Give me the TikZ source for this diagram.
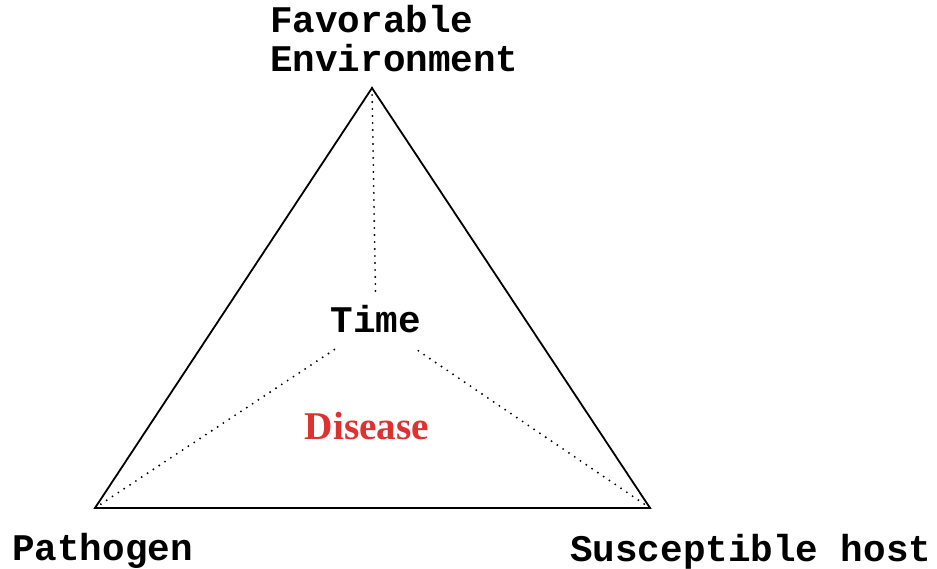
\documentclass[tikz,border=0pt]{standalone}
\usepackage{fontspec}
\setmainfont{Liberation Serif}
\setmonofont{Liberation Mono}
\definecolor{diseasered}{RGB}{221,50,50}
\begin{document}
\begin{tikzpicture}[x=1pt,y=-1pt,
  lbl/.style={font=\ttfamily\bfseries\fontsize{37.6}{39}\selectfont, inner sep=0pt},
  edge/.style={line width=1.8pt, line join=miter},
  link/.style={line width=2.1pt, line cap=round, dash pattern=on 0pt off 7pt}]
\useasboundingbox (0,0) rectangle (937,569);
% triangle corners
\coordinate (env) at (372,88);
\coordinate (path) at (95,508);
\coordinate (host) at (650,508);
\draw[edge] (env) -- (path) -- (host) -- cycle;
% central factor
\node[lbl, minimum height=54pt, text height=20pt, text depth=0pt] (time) at (376,322) {Time};
\node[font=\bfseries\fontsize{39.3}{41}\selectfont, text=diseasered, inner sep=0pt, anchor=base] (disease) at (367,439) {Disease};
% dotted links to the centre
\draw[link] (env) -- (time);
\draw[link] (path) -- (time);
\draw[link] (host) -- (time);
% corner labels
\node[lbl, anchor=base west, align=left] (envlbl) at (270,72) {Favorable\\Environment};
\node[lbl, anchor=base west] (pathlbl) at (12,560) {Pathogen};
\node[lbl, anchor=base west] (hostlbl) at (570,561) {Susceptible host};
\end{tikzpicture}
\end{document}
